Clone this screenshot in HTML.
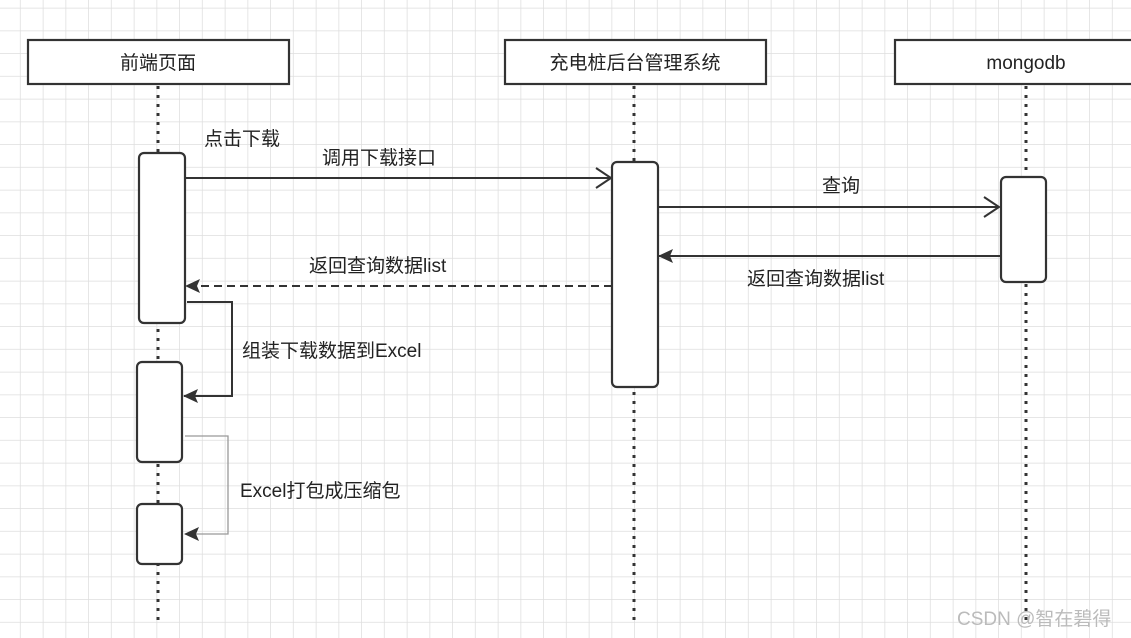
<!DOCTYPE html>
<html><head><meta charset="utf-8"><style>
html,body{margin:0;padding:0;background:#fff;}
svg{display:block;}
text{font-family:"Liberation Sans","Noto Sans CJK SC",sans-serif;font-size:19px;fill:#222;}
</style></head><body>
<svg width="1131" height="638" viewBox="0 0 1131 638" xmlns="http://www.w3.org/2000/svg">
<defs>
<pattern id="g" x="-2" y="8.5" width="22.75" height="22.75" patternUnits="userSpaceOnUse">
<path d="M22.75 0V22.75M0 22.75H22.75" stroke="#dedede" stroke-width="1.5" fill="none"/>
</pattern>
<marker id="fa" markerWidth="16" markerHeight="14" refX="14" refY="7" orient="auto" markerUnits="userSpaceOnUse"><path d="M0,0 L15,7 L0,14 L3,7z" fill="#333"/></marker>
<marker id="fg" markerWidth="16" markerHeight="14" refX="14" refY="7" orient="auto" markerUnits="userSpaceOnUse"><path d="M0,0 L15,7 L0,14 L3,7z" fill="#333"/></marker>
<marker id="oa" markerWidth="18" markerHeight="22" refX="16" refY="11" orient="auto" markerUnits="userSpaceOnUse"><path d="M1,1 L16,11 L1,21" fill="none" stroke="#333" stroke-width="2"/></marker>
</defs>
<rect width="1131" height="638" fill="url(#g)"/>
<g stroke="#333" stroke-width="3" stroke-dasharray="3,6" fill="none">
<line x1="158" y1="86" x2="158" y2="620"/>
<line x1="634" y1="86" x2="634" y2="620"/>
<line x1="1026" y1="86" x2="1026" y2="620"/>
</g>
<g fill="#fff" stroke="#333" stroke-width="2.2">
<rect x="28" y="40" width="261" height="44"/>
<rect x="505" y="40" width="261" height="44"/>
<rect x="895" y="40" width="250" height="44"/>
<rect x="139" y="153" width="46" height="170" rx="5"/>
<rect x="137" y="362" width="45" height="100" rx="5"/>
<rect x="137" y="504" width="45" height="60" rx="5"/>
<rect x="612" y="162" width="46" height="225" rx="5"/>
<rect x="1001" y="177" width="45" height="105" rx="5"/>
</g>
<text x="158" y="69" text-anchor="middle">前端页面</text>
<text x="635" y="69" text-anchor="middle">充电桩后台管理系统</text>
<text x="1026" y="69" text-anchor="middle">mongodb</text>
<g stroke="#333" stroke-width="2" fill="none">
<line x1="185" y1="178" x2="611" y2="178" marker-end="url(#oa)"/>
<line x1="658" y1="207" x2="999" y2="207" marker-end="url(#oa)"/>
<line x1="1001" y1="256" x2="659" y2="256" marker-end="url(#fa)"/>
<line x1="612" y1="286" x2="186" y2="286" stroke-dasharray="8,5" marker-end="url(#fa)"/>
<polyline points="187,302 232,302 232,396 184,396" marker-end="url(#fa)"/>
</g>
<polyline points="185,436 228,436 228,534 185,534" stroke="#999" stroke-width="1.3" fill="none" marker-end="url(#fg)"/>
<text x="204" y="145">点击下载</text>
<text x="322" y="164">调用下载接口</text>
<text x="822" y="192">查询</text>
<text x="309" y="272">返回查询数据list</text>
<text x="747" y="285">返回查询数据list</text>
<text x="242" y="357">组装下载数据到Excel</text>
<text x="240" y="497">Excel打包成压缩包</text>
<text x="957" y="625" style="fill:#bbb;font-size:19px">CSDN @智在碧得</text>
</svg>
</body></html>
